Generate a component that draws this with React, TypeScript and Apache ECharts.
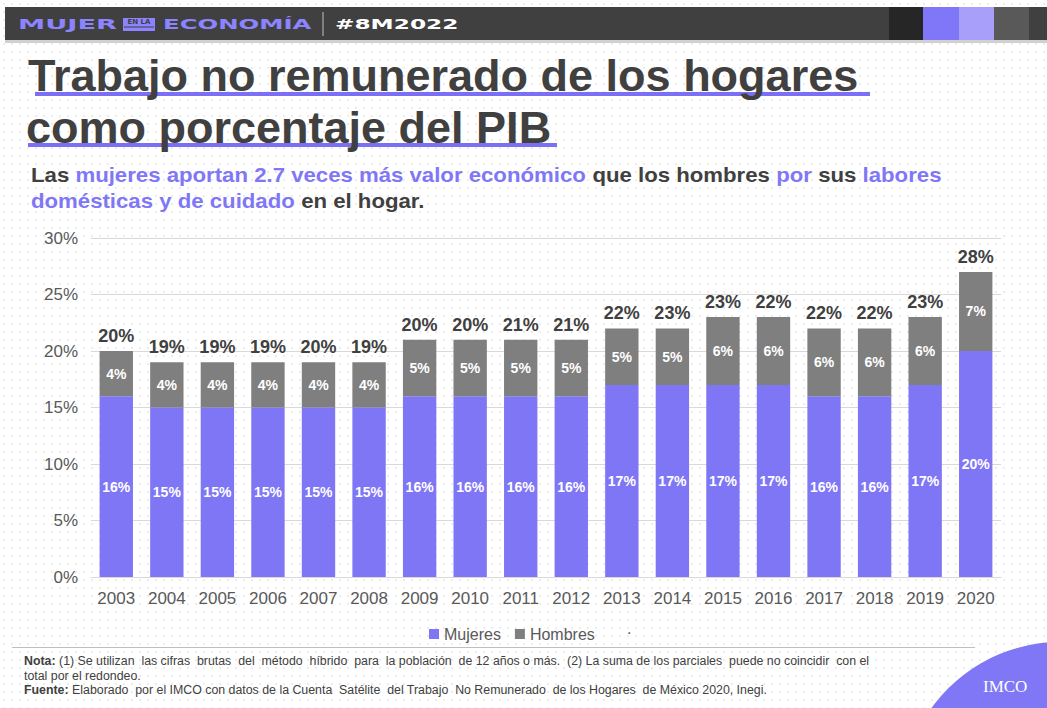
import React, { useEffect, useRef } from "react";
import * as echarts from "echarts";

const years = ["2003","2004","2005","2006","2007","2008","2009","2010","2011","2012","2013","2014","2015","2016","2017","2018","2019","2020"];
const mujeres = [16,15,15,15,15,15,16,16,16,16,17,17,17,17,16,16,17,20];
const hombres = [4,4,4,4,4,4,5,5,5,5,5,5,6,6,6,6,6,7];
const totales = [20,19,19,19,20,19,20,20,21,21,22,23,23,22,22,22,23,28];
const yTicks = { min: 0, max: 30, interval: 5 };

const PURPLE = "#7f76f6";
const GRAY = "#7f7f7f";
const DARK = "#404040";
const SANS = "'Liberation Sans', Arial, sans-serif";

export default function App() {
  const ref = useRef<HTMLDivElement>(null);
  useEffect(() => {
    if (!ref.current) return;
    const chart = echarts.init(ref.current, undefined, { renderer: "svg" });
    const hdrFont = "bold 14px 'DejaVu Sans', sans-serif";
    const footFont = `12px ${SANS}`;
    chart.setOption({
      animation: false,
      backgroundColor: "transparent",
      textStyle: { fontFamily: SANS },
      grid: { left: 91, right: 46, top: 238, bottom: 131 },
      legend: {
        data: ["Mujeres", "Hombres"],
        left: 424,
        top: 621,
        itemWidth: 10,
        itemHeight: 10,
        itemGap: 14,
        icon: "rect",
        textStyle: { fontSize: 16, color: "#595959", fontFamily: SANS },
      },
      xAxis: {
        type: "category",
        data: years,
        axisTick: { show: false },
        axisLine: { lineStyle: { color: "#d9d9d9" } },
        axisLabel: { fontSize: 17, color: "#595959", margin: 13 },
      },
      yAxis: {
        type: "value",
        min: yTicks.min,
        max: yTicks.max,
        interval: yTicks.interval,
        axisLabel: { formatter: "{value}%", fontSize: 17, color: "#595959", margin: 13 },
        splitLine: { lineStyle: { color: "#d9d9d9" } },
        axisLine: { show: false },
        axisTick: { show: false },
      },
      series: [
        {
          name: "Mujeres",
          type: "bar",
          stack: "a",
          data: mujeres,
          barCategoryGap: "34%",
          itemStyle: { color: PURPLE },
          label: {
            show: true,
            position: "inside",
            formatter: "{c}%",
            color: "#fff",
            fontWeight: "bold",
            fontSize: 14,
          },
        },
        {
          name: "Hombres",
          type: "bar",
          stack: "a",
          data: hombres,
          itemStyle: { color: GRAY },
          label: {
            show: true,
            position: "inside",
            formatter: "{c}%",
            color: "#fff",
            fontWeight: "bold",
            fontSize: 14,
          },
        },
        {
          name: "Total",
          type: "bar",
          stack: "a",
          data: totales.map(() => 0),
          itemStyle: { color: "transparent" },
          label: {
            show: true,
            position: "top",
            distance: 6,
            formatter: (p: any) => totales[p.dataIndex] + "%",
            color: DARK,
            fontWeight: "bold",
            fontSize: 18,
          },
        },
      ],
      graphic: [
        // header
        { type: "rect", shape: { x: 5, y: 7, width: 1042, height: 33 }, style: { fill: "#404040" } },
        { type: "rect", shape: { x: 5, y: 40, width: 1042, height: 3 }, style: { fill: "#d0d0d0" } },
        { type: "rect", shape: { x: 889, y: 7, width: 34, height: 33 }, style: { fill: "#262626" } },
        { type: "rect", shape: { x: 923, y: 7, width: 36, height: 33 }, style: { fill: "#8077f8" } },
        { type: "rect", shape: { x: 959, y: 7, width: 35, height: 33 }, style: { fill: "#a89ffa" } },
        { type: "rect", shape: { x: 994, y: 7, width: 35, height: 33 }, style: { fill: "#595959" } },
        { type: "text", x: 18, y: 24, scaleX: 1.95, style: { text: "MUJER", font: hdrFont, fill: "#8c84ff", textVerticalAlign: "middle" } },
        { type: "rect", shape: { x: 123, y: 18, width: 32, height: 13 }, style: { fill: "#8c84ff" } },
        { type: "text", x: 139, y: 22, style: { text: "EN LA", font: "bold 7px 'DejaVu Sans', sans-serif", fill: "#404040", align: "center", verticalAlign: "middle" } },
        { type: "line", shape: { x1: 124, y1: 27, x2: 154, y2: 27 }, style: { stroke: "#404040", lineWidth: 1 } },
        { type: "text", x: 163, y: 24, scaleX: 1.74, style: { text: "ECONOMÍA", font: hdrFont, fill: "#8c84ff", textVerticalAlign: "middle" } },
        { type: "line", shape: { x1: 323, y1: 12, x2: 323, y2: 36 }, style: { stroke: "#bfbfbf", lineWidth: 1 } },
        { type: "text", x: 335, y: 24, scaleX: 1.66, style: { text: "#8M2022", font: hdrFont, fill: "#ffffff", textVerticalAlign: "middle" } },
        // title
        { type: "rect", shape: { x: 35, y: 92, width: 835, height: 4 }, style: { fill: "#7b6ff5" } },
        { type: "rect", shape: { x: 28, y: 143, width: 529, height: 4 }, style: { fill: "#7b6ff5" } },
        { type: "text", x: 28, y: 98, style: { text: "Trabajo no remunerado de los hogares", font: `bold 45px ${SANS}`, fill: DARK, verticalAlign: "bottom" } },
        { type: "text", x: 26, y: 150, style: { text: "como porcentaje del PIB", font: `bold 45px ${SANS}`, fill: DARK, verticalAlign: "bottom" } },
        // subtitle
        {
          type: "text",
          x: 31,
          y: 162,
          scaleX: 1.11,
          style: {
            text:
              "{d|Las }{p|mujeres aportan 2.7 veces más valor económico}{d| que los hombres }{p|por}{d| sus }{p|labores}\n{p|domésticas y de cuidado}{d| en el hogar.}",
            font: `bold 20px ${SANS}`,
            lineHeight: 26,
            rich: {
              d: { fill: DARK, font: `bold 20px ${SANS}`, lineHeight: 26 },
              p: { fill: "#8077f7", font: `bold 20px ${SANS}`, lineHeight: 26 },
            },
          },
        },
        // legend extra dot
        { type: "text", x: 627, y: 628, style: { text: ".", font: `16px ${SANS}`, fill: "#595959", verticalAlign: "middle" } },
        // footer
        { type: "line", shape: { x1: 12, y1: 647.5, x2: 975, y2: 647.5 }, style: { stroke: "#bfbfbf", lineWidth: 1 } },
        {
          type: "text",
          x: 24,
          y: 654,
          scaleX: 1.03,
          style: {
            text:
              "{b|Nota:} (1) Se utilizan  las cifras  brutas  del  método  híbrido  para  la población  de 12 años o más.  (2) La suma de los parciales  puede no coincidir  con el\ntotal por el redondeo.\n{b|Fuente:} Elaborado  por el IMCO con datos de la Cuenta  Satélite  del Trabajo  No Remunerado  de los Hogares  de México 2020, Inegi.",
            font: footFont,
            fill: "#404040",
            lineHeight: 14.5,
            rich: {
              b: { font: `bold 12px ${SANS}`, fill: "#404040", lineHeight: 14.5 },
            },
          },
        },
        // logo
        { type: "circle", shape: { cx: 1060, cy: 800, r: 158 }, style: { fill: "#8077f7" } },
        { type: "text", x: 983, y: 686, style: { text: "IMCO", font: "17px 'Liberation Serif', serif", fill: "#ffffff", verticalAlign: "middle" } },
      ],
    });
    return () => chart.dispose();
  }, []);
  return (
    <div
      ref={ref}
      style={{
        position: "absolute",
        left: 0,
        top: 0,
        width: 1047,
        height: 708,
        backgroundColor: "#ffffff",
        backgroundImage: "radial-gradient(circle, #ececec 1px, transparent 1.3px)",
        backgroundSize: "8px 8px",
      }}
    />
  );
}
